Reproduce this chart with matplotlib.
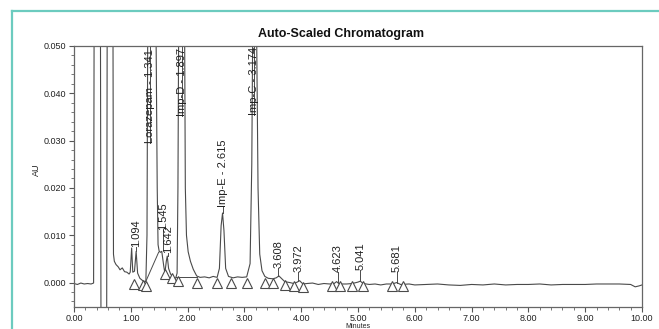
import matplotlib
matplotlib.use("Agg")
import matplotlib.pyplot as plt
from matplotlib.ticker import MultipleLocator, FormatStrFormatter
from matplotlib.lines import Line2D

plt.rcParams['font.family'] = ['Liberation Sans', 'DejaVu Sans']

# ---- data ----
trace_t = [0.00, 0.06, 0.12, 0.18, 0.24, 0.30, 0.345, 0.355, 0.465, 0.475, 0.575, 0.585,
           0.685, 0.695, 0.71, 0.74, 0.78, 0.81, 0.85, 0.89, 0.93, 0.97, 0.99, 1.015,
           1.035, 1.065, 1.094, 1.12, 1.16, 1.22, 1.265, 1.285, 1.30, 1.44, 1.465, 1.48,
           1.50, 1.52, 1.545, 1.58, 1.60, 1.625, 1.642, 1.665, 1.70, 1.75, 1.79, 1.815,
           1.83, 1.845, 1.945, 1.96, 1.98, 2.01, 2.05, 2.10, 2.16, 2.22, 2.30, 2.38, 2.45,
           2.52, 2.56, 2.59, 2.615, 2.64, 2.67, 2.72, 2.80, 2.88, 2.96, 3.04, 3.10, 3.13,
           3.15, 3.21, 3.24, 3.27, 3.31, 3.36, 3.42, 3.50, 3.56, 3.608, 3.65, 3.71, 3.80,
           3.87, 3.93, 3.972, 4.03, 4.10, 4.20, 4.30, 4.40, 4.50, 4.58, 4.623, 4.67, 4.80,
           4.90, 5.00, 5.041, 5.09, 5.20, 5.30, 5.40, 5.50, 5.60, 5.681, 5.75, 5.90, 6.00,
           6.20, 6.40, 6.60, 6.80, 7.00, 7.20, 7.40, 7.60, 7.80, 8.00, 8.20, 8.40, 8.60,
           8.80, 9.00, 9.20, 9.40, 9.60, 9.80, 9.88, 9.95, 10.00]
trace_au = [-0.0002, -0.0004, -0.0001, -0.0003, -0.0002, -0.0003, -0.0001, 0.060, 0.060, -0.010,
            -0.010, 0.060, 0.060, 0.0060, 0.0045, 0.0038, 0.0033, 0.0027, 0.0031, 0.0023,
            0.0022, 0.0018, 0.0022, 0.0073, 0.0022, 0.0024, 0.0066, 0.0020, 0.0009, 0.0003,
            0.0002, 0.0100, 0.060, 0.060, 0.020, 0.0080, 0.0066, 0.0064, 0.0066, 0.0035,
            0.0020, 0.0045, 0.0056, 0.0030, 0.0018, 0.0011, 0.0009, 0.0020, 0.020, 0.060,
            0.060, 0.020, 0.0100, 0.0065, 0.0045, 0.0028, 0.0014, 0.0011, 0.0012, 0.0010,
            0.0013, 0.0011, 0.0030, 0.0120, 0.0147, 0.0110, 0.0030, 0.0013, 0.0010, 0.0012,
            0.0011, 0.0012, 0.0040, 0.025, 0.060, 0.060, 0.020, 0.0060, 0.0025, 0.0013,
            0.0009, 0.0008, 0.0010, 0.0014, 0.0009, 0.0002, 0.0000, -0.0002, 0.0001, 0.0004,
            -0.0003, -0.0002, -0.0001, -0.0004, -0.0002, -0.0003, -0.0002, 0.0002, -0.0003,
            -0.0003, -0.0002, 0.0001, 0.0003, -0.0002, -0.0004, -0.0003, -0.0005, -0.0003,
            -0.0003, 0.0000, -0.0004, -0.0003, -0.0005, -0.0004, -0.0003, -0.0005, -0.0006,
            -0.0004, -0.0005, -0.0003, -0.0005, -0.0004, -0.0004, -0.0003, -0.0005, -0.0004,
            -0.0004, -0.0004, -0.0003, -0.0003, -0.0003, -0.0004, -0.0009, -0.0007, -0.0005]

# integration baselines drawn by the software
baseline_t = [[1.27, 1.49], [1.80, 2.16]]
baseline_au = [[0.0004, 0.0064], [0.0012, 0.0012]]

# peak start / end markers
marker_t = [1.06, 1.22, 1.27, 1.60, 1.72, 1.83, 2.16, 2.51, 2.77, 3.05, 3.36, 3.50, 3.71,
            3.88, 4.03, 4.54, 4.69, 4.89, 5.09, 5.59, 5.80]
marker_au = [-0.0003, -0.0005, -0.0007, 0.0018, 0.0009, 0.0004, 0.0000, 0.0000, 0.0000,
             0.0000, -0.0001, -0.0001, -0.0005, -0.0007, -0.0010, -0.0008, -0.0008,
             -0.0008, -0.0008, -0.0008, -0.0008]

# peak labels: text, x position, peak top, text bottom
label_text = ["1.094", "Lorazepam - 1.341", "1.545", "1.642", "Imp-D - 1.897",
              "Imp-E - 2.615", "Imp-C - 3.174", "3.608", "3.972", "4.623", "5.041", "5.681"]
label_t = [1.094, 1.341, 1.57, 1.66, 1.897, 2.615, 3.174, 3.60, 3.95, 4.64, 5.04, 5.68]
label_peak = [0.0066, 0.060, 0.0068, 0.0056, 0.060, 0.0147, 0.060, 0.0014, 0.0004,
              0.0002, 0.0003, 0.0000]
label_bottom = [0.0076, 0.0296, 0.0112, 0.0062, 0.0351, 0.0160, 0.0355, 0.0031, 0.0023,
                0.0023, 0.0027, 0.0023]

x_ticks = [0, 1, 2, 3, 4, 5, 6, 7, 8, 9, 10]
y_ticks = [0.000, 0.010, 0.020, 0.030, 0.040, 0.050]

# ---- figure ----
W, H = 659, 329
fig = plt.figure(figsize=(W / 100, H / 100), dpi=100)
ax = fig.add_axes([74 / W, 1 - 306.7 / H, (642 - 74) / W, (306.7 - 46) / H])

ink = '#4a4a4a'
ax.plot(trace_t, trace_au, color=ink, lw=0.8, clip_on=True)
for bt, ba in zip(baseline_t, baseline_au):
    ax.plot(bt, ba, color=ink, lw=0.7)
ax.plot(marker_t, marker_au, linestyle='none', marker='^', markersize=7,
        markerfacecolor='white', markeredgecolor=ink, markeredgewidth=0.8)

ylo, yhi = -0.0051, 0.050
for s, x, pk, b in zip(label_text, label_t, label_peak, label_bottom):
    ax.plot([x, x], [min(pk, yhi), b], color=ink, lw=0.7)
    ax.text(x, b, s, rotation=90, ha='center', va='bottom', fontsize=8, color='#222222')

ax.set_xlim(0, 10)
ax.set_ylim(ylo, yhi)
ax.set_xticks(x_ticks)
ax.set_yticks(y_ticks)
ax.xaxis.set_major_formatter(FormatStrFormatter('%.2f'))
ax.yaxis.set_major_formatter(FormatStrFormatter('%.3f'))
ax.xaxis.set_minor_locator(MultipleLocator(0.2))
ax.yaxis.set_minor_locator(MultipleLocator(0.002))
ax.tick_params(which='major', direction='out', length=3.5, width=0.8, color='#555555',
               labelsize=6.5, labelcolor='#222222', pad=2)
ax.tick_params(which='minor', direction='out', length=2, width=0.7, color='#777777')
for sp in ax.spines.values():
    sp.set_color('#666666')
    sp.set_linewidth(0.9)

fig.text(341 / W, 1 - 34 / H, "Auto-Scaled Chromatogram", ha='center', va='center',
         fontsize=9, fontweight='bold', color='#111111')
fig.text(36 / W, 1 - 170 / H, "AU", rotation=90, ha='center', va='center',
         fontsize=6.5, color='#222222')
fig.text(358 / W, 1 - 326.5 / H, "Minutes", ha='center', va='center',
         fontsize=5, color='#222222')

teal = '#6ccbbf'
fig.add_artist(Line2D([12 / W, 12 / W], [0, 1 - 11 / H], color=teal, lw=1.6,
                      transform=fig.transFigure))
fig.add_artist(Line2D([12 / W, 1], [1 - 11 / H, 1 - 11 / H], color=teal, lw=1.6,
                      transform=fig.transFigure))

fig.savefig("out.png", dpi=100)
